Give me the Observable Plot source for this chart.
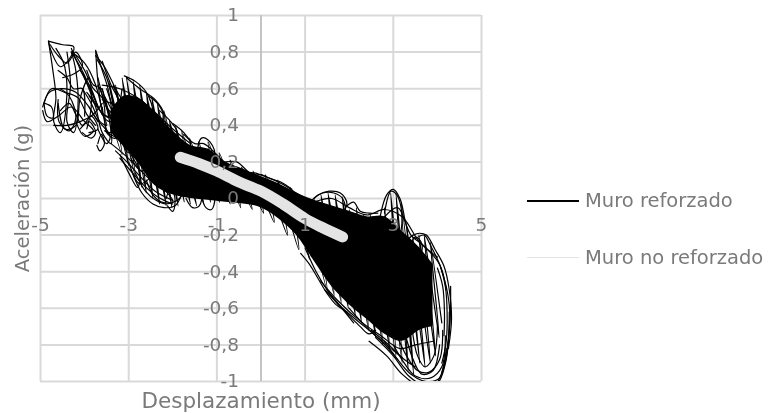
<!DOCTYPE html>
<html><head><meta charset="utf-8">
<script src="https://cdn.jsdelivr.net/npm/d3@7"></script>
<script src="https://cdn.jsdelivr.net/npm/@observablehq/plot@0.6"></script>
<style>
html,body{margin:0;background:#fff;overflow:hidden}
#c{position:relative;width:771px;height:413px;font-family:"DejaVu Sans",sans-serif}
#c svg{filter:blur(.5px)}
.lg{position:absolute;left:527px;display:flex;align-items:center;font-size:19.5px;color:#7a7a7a;filter:blur(.45px);white-space:nowrap}
.lg i{display:block;width:52px;margin-right:6px}
</style></head><body><div id="c"></div>
<script>
const xTicks=[-5,-3,-1,1,3,5];
const yTicks=[-1,-0.8,-0.6,-0.4,-0.2,0,0.2,0.4,0.6,0.8,1];
const yLabels=["-1","-0,8","-0,6","-0,4","-0,2","0","0,2","0,4","0,6","0,8","1"];
const series=["Muro reforzado","Muro no reforzado"];
const coreX=[-3.4,-3.1,-2.8,-2.4,-2.0,-1.6,-1.2,-0.8,-0.4,0,0.4,0.8,1.2,1.6,2.0,2.4,2.8,3.2,3.6,3.9];
const coreLo=[0.36,0.28,0.2,0.07,0.02,0.0,-0.01,-0.02,-0.03,-0.05,-0.11,-0.2,-0.34,-0.48,-0.58,-0.66,-0.74,-0.78,-0.72,-0.7];
const coreHi=[0.48,0.56,0.55,0.47,0.37,0.29,0.27,0.2,0.16,0.12,0.08,0.03,-0.01,-0.04,-0.07,-0.1,-0.1,-0.18,-0.27,-0.36];
const noReforzado=[[-1.83,0.225],[-1.4,0.19],[-1,0.15],[-0.5,0.09],[0,0.04],[0.5,-0.03],[1,-0.11],[1.4,-0.16],[1.85,-0.21]];
const lazosIzq=[
[[-4.82,.86],[-4.75,.8],[-4.55,.72],[-4.3,.78],[-4.25,.83],[-4.5,.84],[-4.82,.86]],
[[-4.82,.86],[-4.72,.7],[-4.65,.55],[-4.7,.42],[-4.55,.36],[-4.42,.5],[-4.45,.72],[-4.65,.82]],
[[-4.78,.84],[-4.6,.78],[-4.4,.74],[-4.2,.8],[-4.05,.72],[-4.25,.68],[-4.5,.66]],
[[-4.3,.82],[-4.05,.68],[-3.8,.56],[-3.6,.46],[-3.75,.62],[-4,.74],[-4.3,.8]],
[[-4.3,.8],[-4.1,.72],[-3.9,.62],[-3.7,.5],[-3.85,.6],[-4.1,.7]],
[[-4.2,.78],[-4,.7],[-3.8,.6],[-3.6,.55],[-3.45,.44],[-3.65,.48],[-3.9,.56]],
[[-4.95,.5],[-4.8,.58],[-4.5,.6],[-4.2,.58],[-3.9,.5],[-3.7,.42]],
[[-4.92,.52],[-4.75,.6],[-4.45,.58],[-4.15,.55],[-3.95,.46],[-3.75,.4]],
[[-4.95,.48],[-4.85,.42],[-4.6,.45],[-4.3,.5],[-4,.42],[-3.8,.37],[-4,.34],[-4.2,.42]],
[[-4.9,.52],[-4.75,.5],[-4.72,.44],[-4.85,.45],[-4.92,.52]],
[[-4.4,.8],[-4.32,.62],[-4.4,.42],[-4.25,.36],[-4.15,.5],[-4.2,.7],[-4.3,.8]],
[[-3.75,.81],[-3.6,.7],[-3.45,.58],[-3.4,.42],[-3.55,.44],[-3.68,.6],[-3.75,.81]],
[[-3.75,.78],[-3.55,.72],[-3.3,.6],[-3.1,.5],[-3.3,.42],[-3.5,.5]],
[[-3.72,.76],[-3.5,.66],[-3.35,.52],[-3.25,.4],[-3.45,.36],[-3.6,.5]],
[[-4.7,.4],[-4.4,.4],[-4.1,.42],[-3.8,.46],[-3.6,.52]],
[[-4.6,.52],[-4.45,.38],[-4.2,.4],[-4.1,.55],[-3.9,.66],[-3.85,.5],[-3.95,.38]],
[[-4.55,.48],[-4.35,.52],[-4.2,.46],[-4.05,.4],[-3.85,.45],[-3.7,.38],[-3.9,.36]],
[[-4.1,.38],[-3.9,.42],[-3.75,.36],[-3.85,.33],[-4.05,.36]],
[[-3.7,.3],[-3.62,.35],[-3.55,.3],[-3.65,.26],[-3.72,.29]],
[[-4.55,.6],[-4.35,.56],[-4.2,.44],[-4.35,.37],[-4.58,.42],[-4.6,.54]],
[[-4.6,.7],[-4.4,.66],[-4.25,.6],[-4.05,.6],[-4,.45]],
[[-3.7,.66],[-3.55,.5],[-3.5,.36],[-3.3,.33],[-3.2,.48],[-3.35,.62]],
[[-4,.66],[-3.75,.5],[-3.6,.36],[-3.4,.3],[-3.5,.5],[-3.7,.62]],
[[-4.05,.6],[-3.85,.52],[-3.65,.42],[-3.5,.4],[-3.7,.5],[-3.95,.58]],
[[-3.95,.7],[-3.8,.62],[-3.62,.6],[-3.5,.5],[-3.35,.46],[-3.55,.56]],
[[-3.9,.5],[-3.75,.44],[-3.6,.4],[-3.42,.34],[-3.5,.3],[-3.7,.38]],
[[-3.6,.75],[-3.4,.62],[-3.25,.55],[-3.12,.44],[-3.3,.48],[-3.5,.6]],
];
const paralelosIzq=[
[[-3.6,.62],[-3.2,.6],[-2.8,.55],[-2.4,.47],[-2,.38],[-1.6,.3]],
[[-3.6,.54],[-3.2,.5],[-2.8,.46],[-2.4,.38],[-2,.3]],
[[-3.6,.46],[-3.2,.42],[-2.8,.36],[-2.4,.28],[-2,.21]],
[[-3.55,.37],[-3.2,.32],[-2.8,.26],[-2.4,.18],[-2,.11]],
[[-3.4,.3],[-3.1,.24],[-2.8,.17],[-2.4,.08],[-2,.03]],
[[-3.3,.26],[-3,.19],[-2.7,.11],[-2.4,.04],[-2,-.01]],
[[-3.2,.22],[-2.95,.15],[-2.65,.07],[-2.35,.01],[-2,-.03]],
];
const rellenoIzq=[[-3.6,.6],[-3.15,.24],[-3.45,.64],[-3,.18],[-3.3,.62],[-2.85,.12],[-3.15,.66],[-2.7,.06],[-3.05,.66],[-2.6,.03],[-2.9,.64],[-2.45,0],[-2.75,.62],[-2.3,-.03],[-2.6,.58],[-2.15,-.04],[-2.48,.56],[-2.02,-.05],[-2.35,.52],[-1.88,-.04],[-2.2,.48],[-1.74,-.02],[-2.08,.43],[-1.6,-.03],[-1.94,.4],[-1.46,-.04],[-1.8,.37],[-1.3,-.03],[-1.62,.33],[-1.14,-.02],[-1.42,.31],[-.94,-.02],[-1.2,.31],[-.7,-.03],[-.95,.25],[-.46,-.05],[-.7,.21],[-.2,-.06],[-.44,.17],[.06,-.08],[-.18,.15],[.3,-.13],[.1,.13],[.6,-.2],[.38,.1],[.86,-.28],[.66,.06],[1.1,-.33]];
const lazosCentroIzq=[
[[-3.1,.67],[-2.85,.64],[-2.6,.58],[-2.45,.46],[-2.7,.3],[-3,.25],[-3.2,.4],[-3.15,.6]],
[[-3.05,.66],[-2.75,.6],[-2.4,.54],[-2.2,.46],[-2.35,.32],[-2.7,.15],[-2.95,.22]],
[[-2.55,.56],[-2.35,.52],[-2.22,.46],[-2.3,.38],[-2.48,.42],[-2.55,.52]],
[[-2.3,.48],[-2.05,.42],[-1.9,.36],[-2.05,.24],[-2.4,.14],[-2.75,.08],[-3,.2]],
[[-2,.41],[-1.75,.36],[-1.6,.3],[-1.85,.2],[-2.2,.08]],
[[-2.95,.16],[-2.7,.03],[-2.45,-.03],[-2.2,-.05],[-1.95,-.04],[-1.8,.02]],
[[-2.85,.14],[-2.62,.04],[-2.38,-.01],[-2.15,-.03],[-1.85,0],[-1.75,.05]],
[[-2.6,.1],[-2.45,.02],[-2.25,-.02],[-2,-.02],[-2.2,.05],[-2.5,.1]],
[[-3.2,.24],[-3,.14],[-2.8,.06],[-2.75,.14],[-2.95,.24]],
[[-2.15,.0],[-2.05,.06],[-1.95,0],[-2.0,-.07],[-2.12,-.04]],
[[-1.35,.02],[-1.25,-.05],[-1.12,-.06],[-1.05,0],[-1.15,.05]],
[[-1.7,0],[-1.55,-.05],[-1.4,-.04],[-1.35,.02],[-1.5,.05]],
[[-1.45,.26],[-1.35,.33],[-1.2,.32],[-1.05,.25],[-1.2,.2]],
[[-1.75,.35],[-1.5,.3],[-1.3,.3],[-1,.24],[-.8,.19],[-.55,.17],[-.3,.14]],
[[-.4,.14],[-.15,.14],[.1,.12],[.3,.1],[.55,.07],[.8,.03],[1,.0]],
[[-.8,.2],[-.55,.2],[-.2,.13],[0,.13],[.2,.11],[.45,.09],[.7,.05]],
];
const rellenoDer=[[1.02,-.02],[1.5,-.5],[1.2,0],[1.66,-.53],[1.36,.02],[1.82,-.57],[1.52,.03],[1.98,-.6],[1.68,.02],[2.14,-.64],[1.84,.01],[2.28,-.68],[2,-.06],[2.44,-.72],[2.16,-.05],[2.6,-.76],[2.32,-.09],[2.76,-.8],[2.48,-.09],[2.92,-.83],[2.64,-.1],[3.06,-.86],[2.8,-.05],[3.2,-.9],[2.94,.03],[3.34,-.94],[3.06,.03],[3.46,-.96],[3.18,-.02],[3.6,-.9],[3.3,-.15],[3.72,-.92],[3.44,-.21],[3.84,-.9],[3.58,-.2],[3.96,-.86],[3.7,-.2],[4.04,-.76],[3.84,-.24],[4.1,-.68]];
const paralelosDer=[
[[1.2,-.02],[1.6,0],[2,-.05],[2.4,-.09],[2.8,-.06],[3.2,-.1],[3.6,-.24],[4,-.32]],
[[2.8,-.1],[3.1,-.05],[3.4,-.2],[3.7,-.26],[4.05,-.36],[4.2,-.5]],
[[1.35,-.45],[1.75,-.56],[2.25,-.67],[2.72,-.75],[3.15,-.82],[3.5,-.8],[3.9,-.78]],
[[1.45,-.5],[1.85,-.6],[2.35,-.7],[2.8,-.79],[3.2,-.87]],
[[2.5,-.72],[2.9,-.8],[3.25,-.88],[3.5,-.92]],
];
const lazosCentroDer=[
[[1.15,-.01],[1.3,.02],[1.55,.04],[1.8,.03],[1.95,-.03],[1.7,-.1],[1.35,-.07]],
[[1.2,0],[1.4,.03],[1.65,.03],[1.85,0],[1.9,-.08],[1.55,-.12]],
[[1.95,-.04],[2.1,-.02],[2.25,-.07],[2.45,-.08],[2.65,-.08]],
[[2.7,-.1],[2.85,.02],[3,.05],[3.15,0],[3.25,-.1],[3.32,-.22],[3.1,-.32],[2.8,-.25]],
[[2.8,-.08],[2.95,.04],[3.08,.02],[3.2,-.1],[3.1,-.22],[2.9,-.2]],
[[.9,-.3],[1.1,-.36],[1.3,-.44],[1.5,-.52],[1.7,-.58],[1.95,-.62]],
[[1,-.27],[1.25,-.4],[1.5,-.5],[1.7,-.56],[1.9,-.62],[2.1,-.68]],
[[1.5,-.5],[1.75,-.58],[2,-.64],[2.25,-.7],[2.45,-.74],[2.6,-.72]],
[[2,-.6],[2.3,-.68],[2.55,-.74],[2.85,-.81],[3.1,-.88]],
];
const lazosDer=[
[[3.3,-.23],[3.45,-.2],[3.6,-.19],[3.75,-.2],[3.95,-.28],[4.15,-.37],[4.27,-.5],[4.32,-.66],[4.25,-.82]],
[[3.5,-.22],[3.7,-.2],[3.85,-.26],[4.05,-.36],[4.2,-.48],[4.28,-.62],[4.22,-.82],[4.1,-.95]],
[[3.35,-.28],[3.5,-.21],[3.65,-.25],[3.55,-.35],[3.35,-.36]],
[[4.08,-.38],[4.18,-.48],[4.22,-.62],[4.2,-.78],[4.1,-.9]],
[[4.0,-.38],[4.12,-.48],[4.16,-.62],[4.15,-.75]],
[[2.45,-.78],[2.85,-.86],[3.2,-.96],[3.55,-1.02],[3.9,-1.03],[4.15,-.92],[4.28,-.7],[4.3,-.48]],
[[2.6,-.76],[3,-.86],[3.35,-.97],[3.7,-1.02],[4,-1.01],[4.2,-.88],[4.27,-.62]],
[[2.8,-.78],[3.1,-.88],[3.4,-.96],[3.75,-1.0],[4.05,-.98],[4.2,-.82]],
[[3,-.8],[3.25,-.9],[3.5,-.97],[3.85,-.98],[4.1,-.92],[4.18,-.75]],
[[3.1,-.76],[3.3,-.86],[3.55,-.94],[3.8,-.95],[4.05,-.88],[4.12,-.72]],
[[3.25,-.72],[3.45,-.88],[3.65,-.96],[3.9,-.94],[4.05,-.8]],
[[3.42,-.7],[3.55,-.86],[3.72,-.92],[3.92,-.86],[4,-.7]],
];
const toRows=(groups,key)=>groups.flatMap((g,i)=>g.map(([x,y])=>({x,y,id:key+i})));
const refuerzo=[...toRows(lazosIzq,"a"),...toRows(lazosCentroIzq,"b"),...toRows(lazosCentroDer,"c"),...toRows(lazosDer,"d"),...toRows(paralelosIzq,"p"),...toRows(paralelosDer,"q")];
const relleno=[...toRows([rellenoIzq],"e"),...toRows([rellenoDer],"f")];
const core=coreX.map((x,i)=>({x,lo:coreLo[i],hi:coreHi[i]}));
const textOpts={fontSize:18.5,fill:"#7a7a7a"};
const chart=Plot.plot({
  width:771,height:413,marginLeft:40,marginRight:290,marginTop:15,marginBottom:32,
  style:{fontFamily:'"DejaVu Sans",sans-serif',background:"#fff"},
  x:{domain:[-5,5],label:null},y:{domain:[-1,1],label:null},
  marks:[
    Plot.gridX(xTicks,{stroke:"#d9d9d9",strokeOpacity:1,strokeWidth:2}),
    Plot.gridY(yTicks,{stroke:"#d9d9d9",strokeOpacity:1,strokeWidth:2}),
    Plot.ruleX([0],{stroke:"#c4c4c4",strokeWidth:2}),
    Plot.axisX({ticks:[],label:"Desplazamiento (mm)",labelAnchor:"center",labelArrow:"none",labelOffset:26,fontSize:21.5,color:"#7a7a7a",tickSize:0}),
    Plot.axisY({ticks:[],label:"Aceleración (g)",labelAnchor:"center",labelArrow:"none",labelOffset:25,fontSize:19.5,color:"#7a7a7a",tickSize:0}),
    Plot.areaY(core,{x:"x",y1:"lo",y2:"hi",fill:"#000",curve:"catmull-rom"}),
    Plot.line(relleno,{x:"x",y:"y",z:"id",stroke:"#000",strokeWidth:1.2,curve:"catmull-rom",clip:true}),
    Plot.line(refuerzo,{x:"x",y:"y",z:"id",stroke:"#000",strokeWidth:1.2,curve:"catmull-rom",clip:true}),
    Plot.line(noReforzado,{x:d=>d[0],y:d=>d[1],stroke:"#e4e4e4",strokeWidth:11,strokeLinecap:"round",curve:"catmull-rom"}),
    Plot.text(yTicks,{x:0,y:d=>d,text:(d,i)=>yLabels[i],dx:-22,textAnchor:"end",...textOpts}),
    Plot.text(xTicks,{x:d=>d,y:0,dy:27,text:d=>String(d),...textOpts}),
  ]
});
const c=document.getElementById("c");
c.appendChild(chart);
const colors=["#000","#e4e4e4"],tops=[189,246];
series.forEach((s,i)=>{
  const d=document.createElement("div");d.className="lg";d.style.top=tops[i]+"px";
  const sw=document.createElement("i");sw.style.cssText="height:"+(i?1:2)+"px;background:"+colors[i];
  d.appendChild(sw);d.appendChild(document.createTextNode(s));c.appendChild(d);
});
</script></body></html>
